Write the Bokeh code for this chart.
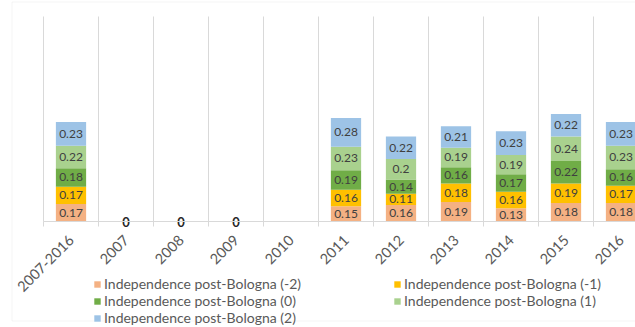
import numpy as np
from math import pi
from bokeh.plotting import figure
from bokeh.models import (ColumnDataSource, FixedTicker, Legend, LegendItem, Range1d,
                          BoxAnnotation)
from bokeh.embed import file_html
from bokeh.resources import INLINE
from bokeh.core.properties import value

categories = ["2007-2016", "2007", "2008", "2009", "2010", "2011",
              "2012", "2013", "2014", "2015", "2016"]
indep_m2 = [0.17, 0, 0, 0, None, 0.15, 0.16, 0.19, 0.13, 0.18, 0.18]
indep_m1 = [0.17, 0, 0, 0, None, 0.16, 0.11, 0.18, 0.16, 0.19, 0.17]
indep_0 = [0.18, 0, 0, 0, None, 0.19, 0.14, 0.16, 0.17, 0.22, 0.16]
indep_p1 = [0.22, 0, 0, 0, None, 0.23, 0.20, 0.19, 0.19, 0.24, 0.23]
indep_p2 = [0.23, 0, 0, 0, None, 0.28, 0.22, 0.21, 0.23, 0.22, 0.23]
series_names = ["Independence post-Bologna (-2)", "Independence post-Bologna (-1)",
                "Independence post-Bologna (0)", "Independence post-Bologna (1)",
                "Independence post-Bologna (2)"]
series_values = [indep_m2, indep_m1, indep_0, indep_p1, indep_p2]
colors = ["#F4B183", "#FFC000", "#70AD47", "#A9D18E", "#9DC3E6"]

FONT = "Lato"
W, H = 635, 327
CAT_PX = 55.0        # pixels per category
CAT0_PX = 70.5       # page x of the first category centre
BASE_PX = 221.0      # page y of the baseline
UNIT_PX = 102.5      # pixels per value unit
TOP_PX = 16.0        # page y of the plot-area top

n = len(categories)
xs = list(range(n))

x_range = Range1d(-CAT0_PX / CAT_PX, (W - CAT0_PX) / CAT_PX)
y_range = Range1d(-(H - BASE_PX) / UNIT_PX, BASE_PX / UNIT_PX)
y_top = (BASE_PX - TOP_PX) / UNIT_PX

p = figure(width=W, height=H, output_backend="svg", toolbar_location=None,
           x_range=x_range, y_range=y_range,
           min_border_left=0, min_border_right=0, min_border_top=0, min_border_bottom=0)
p.outline_line_color = None
p.background_fill_color = "white"
p.border_fill_color = "white"
p.xgrid.visible = False
p.ygrid.visible = False
p.yaxis.visible = False

# chart-area border
p.add_layout(BoxAnnotation(left=11.5, top=6.5, right=W + 20, bottom=325.5,
                           left_units="screen", right_units="screen",
                           top_units="screen", bottom_units="screen",
                           fill_alpha=0, line_color="#D9D9D9", line_width=1))

# category separators (vertical gridlines)
boundaries = [i - 0.5 for i in range(n + 1)]
p.segment(x0=boundaries, y0=[0] * len(boundaries), x1=boundaries,
          y1=[y_top] * len(boundaries), line_color="#D9D9D9", line_width=1)

vals = np.array([[np.nan if v is None else v for v in s] for s in series_values])
tops = np.cumsum(vals, axis=0)
bottoms = tops - vals

renderers = []
lab_x, lab_y, lab_t = [], [], []
for k, name in enumerate(series_names):
    src = ColumnDataSource(dict(x=xs, top=tops[k], bottom=bottoms[k]))
    r = p.vbar(x="x", top="top", bottom="bottom", width=0.55, source=src,
               fill_color=colors[k], line_color=None)
    renderers.append(r)
    for i in range(n):
        v = vals[k, i]
        if not np.isnan(v) and v > 0:
            lab_x.append(i)
            lab_y.append((tops[k, i] + bottoms[k, i]) / 2)
            lab_t.append(f"{v:g}")

p.text(x=lab_x, y=lab_y, text=lab_t, text_align="center", text_baseline="middle",
       text_font=value(FONT), text_font_size="12px", text_color="#404040")

zero_x = [i for i in range(n) if not np.isnan(vals[:, i]).any() and np.nansum(vals[:, i]) == 0]
p.text(x=zero_x, y=[0] * len(zero_x), text=["0"] * len(zero_x), text_align="center",
       text_baseline="middle", text_font=value(FONT), text_font_size="13px",
       text_font_style="bold", text_color="#262626")

ax = p.xaxis[0]
ax.fixed_location = 0
ax.bounds = (-0.5, n - 0.5)
ax.ticker = FixedTicker(ticks=xs, minor_ticks=boundaries)
ax.major_label_overrides = {i: c for i, c in enumerate(categories)}
ax.major_label_orientation = pi / 4
ax.major_tick_line_color = None
ax.minor_tick_line_color = "#D9D9D9"
ax.minor_tick_in = 0
ax.minor_tick_out = 5
ax.axis_line_color = "#D9D9D9"
ax.major_label_text_font = FONT
ax.major_label_text_font_size = "14.5px"
ax.major_label_text_color = "#595959"
ax.major_label_standoff = 10


def make_legend(items, loc):
    return Legend(items=items, location=loc, orientation="vertical",
                  label_text_font=FONT, label_text_font_size="14px",
                  label_text_color="#595959", glyph_width=8, glyph_height=8,
                  label_height=16, spacing=0, padding=0, margin=0,
                  label_standoff=3, border_line_color=None, background_fill_alpha=0)


leg1 = make_legend([LegendItem(label=series_names[k], renderers=[renderers[k]]) for k in (0, 2, 4)],
                   (93, 1))
leg2 = make_legend([LegendItem(label=series_names[k], renderers=[renderers[k]]) for k in (1, 3)],
                   (393, 18))
p.add_layout(leg1, "center")
p.add_layout(leg2, "center")

open("out.html", "w").write(file_html(p, INLINE))
